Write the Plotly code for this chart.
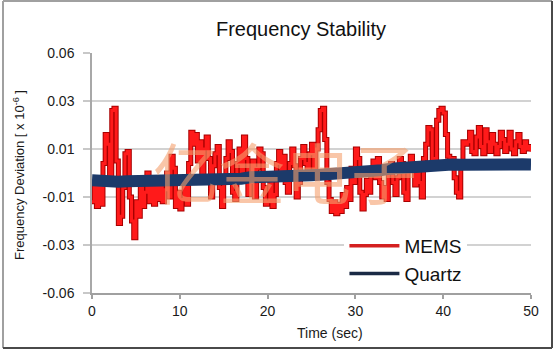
import plotly.graph_objects as go
import numpy as np

# ---------------- data ----------------
mems_time = [i * 0.25 for i in range(201)]
mems_values = [
    -0.012, -0.004, -0.014, -0.006, -0.013, 0.004, 0.016, 0.012,
    -0.002, 0.026, 0.027, 0.005, -0.021, -0.018, -0.006, 0.008,
    0.009, -0.010, -0.020, -0.027, -0.012, -0.018, -0.006, -0.014,
    -0.008, 0.000, -0.012, -0.004, -0.013, -0.006, -0.011, -0.003,
    -0.012, -0.007, 0.000, -0.010, 0.007, 0.002, -0.014, -0.008,
    -0.015, -0.011, -0.004, -0.013, 0.004, 0.017, 0.012, 0.016,
    0.005, 0.013, -0.002, 0.010, 0.015, 0.006, -0.010, 0.003,
    0.008, 0.011, -0.006, -0.014, -0.004, 0.006, 0.013, 0.009,
    -0.008, -0.011, 0.004, 0.010, -0.002, 0.015, 0.006, -0.009,
    -0.004, 0.005, -0.010, 0.002, 0.010, 0.008, -0.006, -0.013,
    -0.012, -0.004, -0.014, -0.009, 0.004, 0.009, 0.001, 0.007,
    -0.004, -0.008, 0.004, 0.010, 0.003, -0.010, -0.004, 0.006,
    0.011, 0.004, -0.002, 0.008, 0.012, 0.002, 0.010, 0.018,
    0.026, 0.027, 0.014, -0.004, -0.011, -0.016, -0.012, -0.017,
    -0.013, -0.016, -0.009, -0.014, -0.006, -0.011, 0.002, -0.004,
    0.010, 0.006, -0.008, -0.015, -0.009, -0.003, -0.008, 0.001,
    0.005, -0.002, 0.006, -0.004, -0.010, -0.006, -0.011, 0.000,
    0.004, -0.004, -0.009, -0.002, 0.006, 0.004, -0.008, -0.011,
    0.002, 0.007, 0.003, -0.005, 0.004, -0.004, -0.010, 0.006,
    0.012, 0.019, 0.018, 0.006, 0.004, 0.022, 0.026, 0.027,
    0.025, 0.016, 0.007, 0.004, 0.006, -0.002, -0.008, -0.010,
    0.003, 0.013, 0.012, 0.013, 0.017, 0.009, 0.008, 0.015,
    0.019, 0.011, 0.008, 0.018, 0.013, 0.009, 0.016, 0.012,
    0.008, 0.011, 0.017, 0.014, 0.009, 0.012, 0.017, 0.010,
    0.008, 0.013, 0.016, 0.011, 0.009, 0.013, 0.010, 0.011,
    0.009,
]

quartz_time = list(range(51))
quartz_values = [
    -0.0030, -0.0035, -0.0032, -0.0036, -0.0034, -0.0033, -0.0036, -0.0034,
    -0.0035, -0.0033, -0.0036, -0.0034, -0.0037, -0.0035, -0.0033, -0.0034,
    -0.0030, -0.0024, -0.0018, -0.0015, -0.0012, -0.0013, -0.0010, -0.0011,
    -0.0008, -0.0009, -0.0007, -0.0006, -0.0004, -0.0003, -0.0002, 0.0000,
    0.0004, 0.0012, 0.0018, 0.0022, 0.0026, 0.0029, 0.0031, 0.0033,
    0.0034, 0.0035, 0.0034, 0.0036, 0.0035, 0.0036, 0.0035, 0.0036,
    0.0035, 0.0036, 0.0035,
]

series_names = ["MEMS", "Quartz"]
y_tick_labels = ["0.06", "0.03", "0.01", "-0.01", "-0.03", "-0.06"]
x_tick_values = [0, 10, 20, 30, 40, 50]

title_text = "Frequency Stability"
x_title = "Time (sec)"
y_title = "Frequency Deviation [ x 10<sup>-6</sup> ]"
watermark = "亿金电子"

# ---------------- figure ----------------
FONT = "Arial, Liberation Sans, sans-serif"
RED = "#ff1a1a"
DARKRED = "#a80000"
NAVY = "#1c3a6a"

fig = go.Figure()

fig.add_trace(go.Scatter(x=mems_time, y=mems_values, mode="lines",
                         line=dict(color=DARKRED, width=5, shape="hv"), showlegend=False,
                         hoverinfo="skip"))
fig.add_trace(go.Scatter(x=mems_time, y=mems_values, mode="lines",
                         line=dict(color=RED, width=3, shape="hv"), showlegend=False))
fig.add_trace(go.Scatter(x=quartz_time, y=quartz_values, mode="lines",
                         line=dict(color=NAVY, width=12), showlegend=False))

# legend entries
fig.add_trace(go.Scatter(x=[None], y=[None], mode="lines", name=series_names[0],
                         line=dict(color="#d42020", width=3.5)))
fig.add_trace(go.Scatter(x=[None], y=[None], mode="lines", name=series_names[1],
                         line=dict(color="#1a2a45", width=3.5)))

tick_positions = list(np.linspace(0.05, -0.05, len(y_tick_labels)))

fig.update_layout(
    width=560, height=352,
    margin=dict(l=92, r=29, t=53, b=59),
    paper_bgcolor="white", plot_bgcolor="white",
    font=dict(family=FONT, color="#1a1a1a"),
    title=dict(text=title_text, x=301 / 560, xref="container", xanchor="center",
               y=1 - 29 / 352, yanchor="middle",
               font=dict(size=20, family=FONT, color="#111")),
    showlegend=True,
    legend=dict(x=0.575, xanchor="left", y=0.275, yanchor="top",
                bgcolor="white", borderwidth=0,
                font=dict(size=19, family=FONT, color="#111"),
                itemwidth=50, tracegroupgap=0),
    xaxis=dict(range=[0, 50], tickvals=x_tick_values,
               ticks="outside", ticklen=4, tickcolor="#a0a0a0", tickwidth=1.5,
               showline=True, linecolor="#a0a0a0", linewidth=1.5,
               showgrid=False, zeroline=False,
               tickfont=dict(size=14, family=FONT, color="#1a1a1a")),
    yaxis=dict(range=[-0.05, 0.05], tickvals=tick_positions, ticktext=y_tick_labels,
               ticks="outside", ticklen=7, tickcolor="#c8c8c8", tickwidth=1.5,
               showline=True, linecolor="#a8a8a8", linewidth=1.5,
               showgrid=True, gridcolor="#d2d2d2", gridwidth=1.5,
               zeroline=False, ticklabelstandoff=6,
               tickfont=dict(size=14, family=FONT, color="#1a1a1a")),
    annotations=[
        dict(text=x_title, xref="paper", yref="paper",
             x=(330 - 92) / 439, y=-(333 - 293) / 240,
             xanchor="center", yanchor="middle", showarrow=False,
             font=dict(size=14, family=FONT, color="#1a1a1a")),
        dict(text=y_title, xref="paper", yref="paper",
             x=(19 - 92) / 439, y=(293 - 175) / 240, textangle=-90,
             xanchor="center", yanchor="middle", showarrow=False,
             font=dict(size=13, family=FONT, color="#1a1a1a")),
        dict(text=watermark, xref="paper", yref="paper",
             x=(285 - 92) / 439, y=(293 - 170) / 240,
             xanchor="center", yanchor="middle", showarrow=False,
             font=dict(size=66, family="Noto Sans CJK SC", color="rgba(245,160,110,0.6)")),
    ],
    shapes=[
        dict(type="line", xref="paper", yref="paper",
             x0=(3 - 92) / 439, x1=(3 - 92) / 439, y0=(293 - 348) / 240, y1=(293 - 1) / 240,
             line=dict(color="#a0a0a0", width=2)),
        dict(type="line", xref="paper", yref="paper",
             x0=(3 - 92) / 439, x1=(552 - 92) / 439, y0=(293 - 1) / 240, y1=(293 - 1) / 240,
             line=dict(color="#a0a0a0", width=2)),
        dict(type="line", xref="paper", yref="paper",
             x0=(552 - 92) / 439, x1=(552 - 92) / 439, y0=(293 - 348) / 240, y1=(293 - 1) / 240,
             line=dict(color="#4a4a4a", width=2)),
        dict(type="line", xref="paper", yref="paper",
             x0=(3 - 92) / 439, x1=(552 - 92) / 439, y0=(293 - 348) / 240, y1=(293 - 348) / 240,
             line=dict(color="#4a4a4a", width=2)),
    ],
)

fig.write_html("out.html")
